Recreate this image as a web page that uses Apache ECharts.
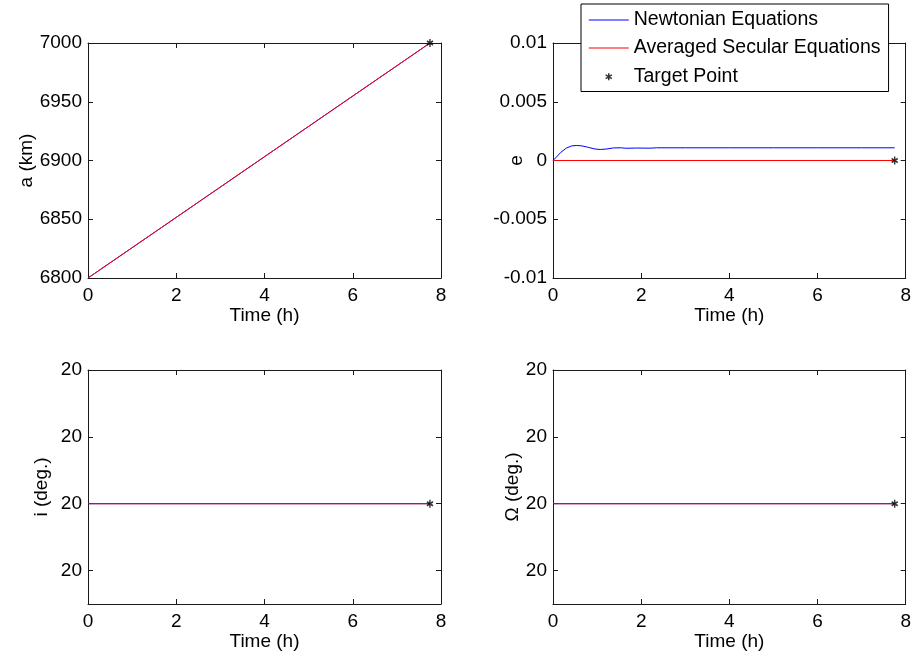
<!DOCTYPE html>
<html>
<head>
<meta charset="utf-8">
<script src="https://cdn.jsdelivr.net/npm/echarts@6/dist/echarts.min.js"></script>
<style>
  html, body { margin: 0; padding: 0; background: #fff; }
  #chart { width: 914px; height: 657px; }
</style>
</head>
<body>
<div id="chart"></div>
<script>
// Orbit element histories during a transfer: Newtonian propagation vs averaged secular equations.
const timeTicks = [0, 2, 4, 6, 8];

// Semi-major axis (km)
const aTime = [0, 7.75];
const aNewton = [6800, 7000];
const aAveraged = [6800, 7000];
const aTicks = [6800, 6850, 6900, 6950, 7000];

// Eccentricity
const eTimeNewton = [0, 0.08, 0.18, 0.3, 0.42, 0.54, 0.66, 0.8, 0.95, 1.07, 1.2, 1.37, 1.55, 1.65, 1.9, 2.2, 2.35, 3, 4, 5, 6, 7, 7.75];
const eNewton = [0, 0.0003, 0.0007, 0.00105, 0.00124, 0.00128, 0.00124, 0.00112, 0.00098, 0.00094, 0.00097, 0.00107, 0.00108, 0.00104, 0.00106, 0.00105, 0.00108, 0.00108, 0.00108, 0.00108, 0.00108, 0.00108, 0.00108];
const eTimeAveraged = [0, 7.75];
const eAveraged = [0, 0];
const eTicks = [-0.01, -0.005, 0, 0.005, 0.01];

// Inclination (deg.)
const iTime = [0, 7.75];
const iNewton = [20, 20];
const iAveraged = [20, 20];

// Right ascension of the ascending node (deg.)
const raanTime = [0, 7.75];
const raanNewton = [20, 20];
const raanAveraged = [20, 20];

// Angle axes: the span is tiny, so every tick reads "20"
const angleTicks = [19.999, 20, 20.001, 20.002];

// Target state
const targetTime = [7.75];
const targetA = [7000];
const targetE = [0];
const targetI = [20];
const targetRaan = [20];

const FONT = "'Liberation Sans', Arial, Helvetica, sans-serif";
const AXIS_COLOR = '#1a1a1a';
const BLUE = '#0000ff';
const RED = '#ff0000';
const STAR = 'path://M0,-4L0,4M-3.5,-2L3.5,2M-3.5,2L3.5,-2';
const STAR_LEGEND = 'path://M-20,-12M20,12M0,-3.6L0,3.6M-3.1,-1.8L3.1,1.8M-3.1,1.8L3.1,-1.8';
const LINE_LEGEND = 'path://M0,0M40,24M0,11.5L40,11.5L40,12.5L0,12.5Z';

const zip = (xs, ys) => xs.map((x, k) => [x, ys[k]]);
const plain = v => String(v);
const roundDeg = v => String(Math.round(v));

const panels = [
  { left: 88, top: 43, height: 235, name: 'a (km)', nameGap: 52,
    min: 6800, max: 7000, ticks: aTicks, formatter: plain,
    time: aTime, newton: aNewton, timeAvg: aTime, averaged: aAveraged, target: targetA },
  { left: 553, top: 43, height: 235, name: 'e', nameGap: 27,
    min: -0.01, max: 0.01, ticks: eTicks, formatter: plain,
    time: eTimeNewton, newton: eNewton, timeAvg: eTimeAveraged, averaged: eAveraged, target: targetE },
  { left: 88, top: 370, height: 234, name: 'i (deg.)', nameGap: 37,
    min: 19.9985, max: 20.002, ticks: angleTicks, formatter: roundDeg,
    time: iTime, newton: iNewton, timeAvg: iTime, averaged: iAveraged, target: targetI },
  { left: 553, top: 370, height: 234, name: 'Ω (deg.)', nameGap: 31,
    min: 19.9985, max: 20.002, ticks: angleTicks, formatter: roundDeg,
    time: raanTime, newton: raanNewton, timeAvg: raanTime, averaged: raanAveraged, target: targetRaan }
];

const grid = [], xAxis = [], yAxis = [], series = [];
const axisLine = { show: true, onZero: false, lineStyle: { color: AXIS_COLOR, width: 1 } };
const tickStyle = { color: AXIS_COLOR, width: 1 };
const nameStyle = { color: '#000', fontFamily: FONT, fontSize: 19 };
const labelStyle = { color: '#000', fontFamily: FONT, fontSize: 19 };

panels.forEach((p, g) => {
  grid.push({ left: p.left, top: p.top, width: 353, height: p.height, containLabel: false });

  const xMain = xAxis.length;
  xAxis.push({
    type: 'value', gridIndex: g, position: 'bottom', min: 0, max: 8,
    axisLine, splitLine: { show: false },
    axisTick: { show: true, inside: true, length: 5, lineStyle: tickStyle, customValues: timeTicks },
    axisLabel: { ...labelStyle, margin: 8, customValues: timeTicks, formatter: plain },
    name: 'Time (h)', nameLocation: 'middle', nameGap: 28, nameMoveOverlap: false,
    nameTextStyle: nameStyle
  });
  xAxis.push({
    type: 'value', gridIndex: g, position: 'top', min: 0, max: 8,
    axisLine, splitLine: { show: false },
    axisTick: { show: true, inside: true, length: 5, lineStyle: tickStyle, customValues: timeTicks },
    axisLabel: { show: false }
  });

  const yMain = yAxis.length;
  yAxis.push({
    type: 'value', gridIndex: g, position: 'left', min: p.min, max: p.max,
    axisLine, splitLine: { show: false },
    axisTick: { show: true, inside: true, length: 5, lineStyle: tickStyle, customValues: p.ticks },
    axisLabel: { ...labelStyle, margin: 6, customValues: p.ticks, formatter: p.formatter },
    name: p.name, nameLocation: 'middle', nameGap: p.nameGap, nameMoveOverlap: false,
    nameTextStyle: nameStyle
  });
  yAxis.push({
    type: 'value', gridIndex: g, position: 'right', min: p.min, max: p.max,
    axisLine, splitLine: { show: false },
    axisTick: { show: true, inside: true, length: 5, lineStyle: tickStyle, customValues: p.ticks },
    axisLabel: { show: false }
  });

  series.push({
    name: 'Newtonian Equations', type: 'line', xAxisIndex: xMain, yAxisIndex: yMain,
    data: zip(p.time, p.newton), symbol: 'none', smooth: false,
    lineStyle: { color: BLUE, width: 1 }, itemStyle: { color: BLUE }, z: 3
  });
  series.push({
    name: 'Averaged Secular Equations', type: 'line', xAxisIndex: xMain, yAxisIndex: yMain,
    data: zip(p.timeAvg, p.averaged), symbol: 'none',
    lineStyle: { color: RED, width: 1 }, itemStyle: { color: RED }, z: 4
  });
  series.push({
    name: 'Target Point', type: 'scatter', xAxisIndex: xMain, yAxisIndex: yMain,
    data: zip(targetTime, p.target), symbol: STAR, symbolSize: [7, 8], symbolKeepAspect: true,
    itemStyle: { color: 'rgba(0,0,0,0)', borderColor: '#000', borderWidth: 1.5 }, z: 5
  });
});

const chart = echarts.init(document.getElementById('chart'), null, { renderer: 'canvas' });
chart.setOption({
  animation: false,
  backgroundColor: '#fff',
  grid, xAxis, yAxis, series,
  legend: {
    orient: 'vertical', left: 581, top: 4, z: 10,
    backgroundColor: '#fff', borderColor: '#000', borderWidth: 1, borderRadius: 0,
    padding: [4, 8, 2, 7], itemWidth: 40, itemHeight: 24, itemGap: 4, itemTextGap: 5,
    selectedMode: false,
    textStyle: { color: '#000', fontFamily: FONT, fontSize: 19.5 },
    data: [
      { name: 'Newtonian Equations', icon: LINE_LEGEND,
        itemStyle: { color: BLUE, borderWidth: 0 } },
      { name: 'Averaged Secular Equations', icon: LINE_LEGEND,
        itemStyle: { color: RED, borderWidth: 0 } },
      { name: 'Target Point', icon: STAR_LEGEND,
        itemStyle: { color: 'rgba(0,0,0,0)', borderColor: '#000', borderWidth: 1.5 } }
    ]
  }
});
</script>
</body>
</html>
